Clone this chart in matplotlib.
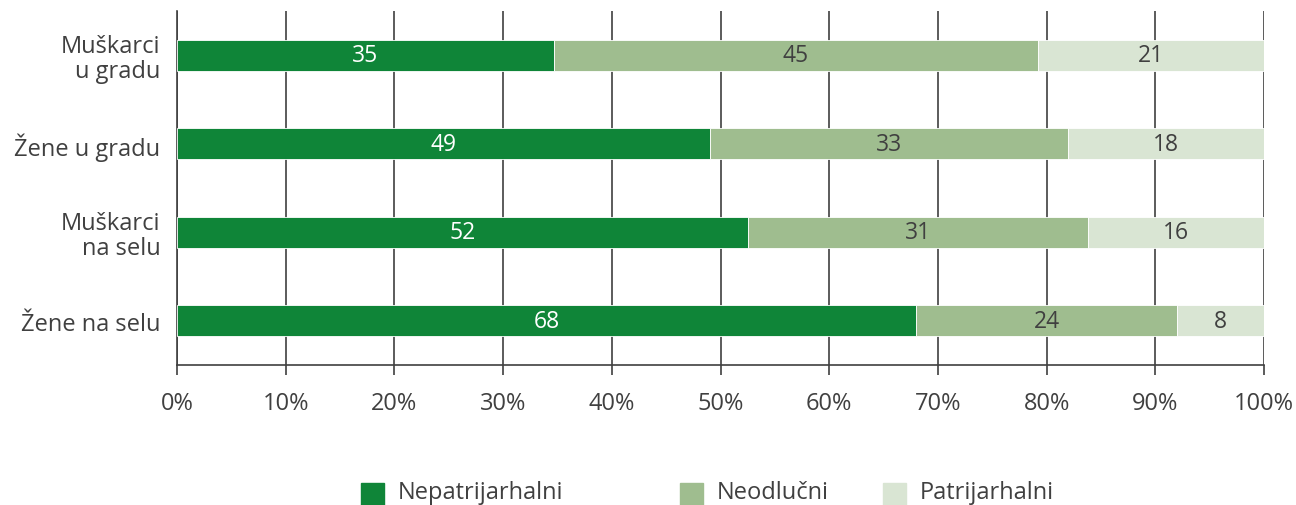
import matplotlib
matplotlib.use("Agg")
import matplotlib.pyplot as plt
import numpy as np
from matplotlib.patches import Rectangle

plt.rcParams["font.family"] = ["Open Sans", "DejaVu Sans"]

categories = ["Muškarci\nu gradu", "Žene u gradu", "Muškarci\nna selu", "Žene na selu"]
series_names = ["Nepatrijarhalni", "Neodlučni", "Patrijarhalni"]
nepatrijarhalni = [35, 49, 52, 68]
neodlucni = [45, 33, 31, 24]
patrijarhalni = [21, 18, 16, 8]
x_ticks = [0, 10, 20, 30, 40, 50, 60, 70, 80, 90, 100]

colors = ["#0f8538", "#9fbd8f", "#d9e5d3"]
label_colors = ["white", "#404040", "#404040"]
text_col = "#404040"

values = np.array([nepatrijarhalni, neodlucni, patrijarhalni], dtype=float)
shares = values / values.sum(axis=0) * 100  # each row stacked to 100%

fig = plt.figure(figsize=(12.96, 5.06), dpi=100)
ax = fig.add_axes([0.1366, 0.2767, 0.8387, 0.6996])

y = np.arange(len(categories))
left = np.zeros(len(categories))
for i in range(3):
    ax.barh(y, shares[i], left=left, height=0.35, color=colors[i],
            edgecolor="white", linewidth=0.6, zorder=3)
    for j in range(len(categories)):
        ax.text(left[j] + shares[i][j] / 2, y[j], f"{int(values[i][j])}",
                ha="center", va="center", fontsize=16.5, color=label_colors[i], zorder=4)
    left += shares[i]

ax.set_xlim(0, 100)
ax.set_ylim(len(categories) - 0.5, -0.5)
ax.set_xticks(x_ticks)
ax.set_xticklabels([f"{t}%" for t in x_ticks])
ax.set_yticks(y)
ax.set_yticklabels(categories, linespacing=1.05)
ax.xaxis.grid(True, color=text_col, linewidth=1.2, zorder=1)
ax.tick_params(axis="x", length=7, width=1.2, color=text_col, pad=12,
               labelsize=17, labelcolor=text_col)
ax.tick_params(axis="y", length=0, pad=12, labelsize=17, labelcolor=text_col)
for s in ["top", "right"]:
    ax.spines[s].set_visible(False)
for s in ["left", "bottom"]:
    ax.spines[s].set_color(text_col)
    ax.spines[s].set_linewidth(1.2)

# legend laid out by hand along the bottom edge
legend_x = [361, 680, 883]
W, H = 1296, 506
for i, name in enumerate(series_names):
    fig.patches.append(Rectangle((legend_x[i] / W, 0), 23 / W, 22 / H,
                                 transform=fig.transFigure, color=colors[i]))
    fig.text((legend_x[i] + 37) / W, 1 - 499 / H, name, ha="left", va="baseline",
             fontsize=17, color=text_col)

fig.savefig("out.png", dpi=100)
